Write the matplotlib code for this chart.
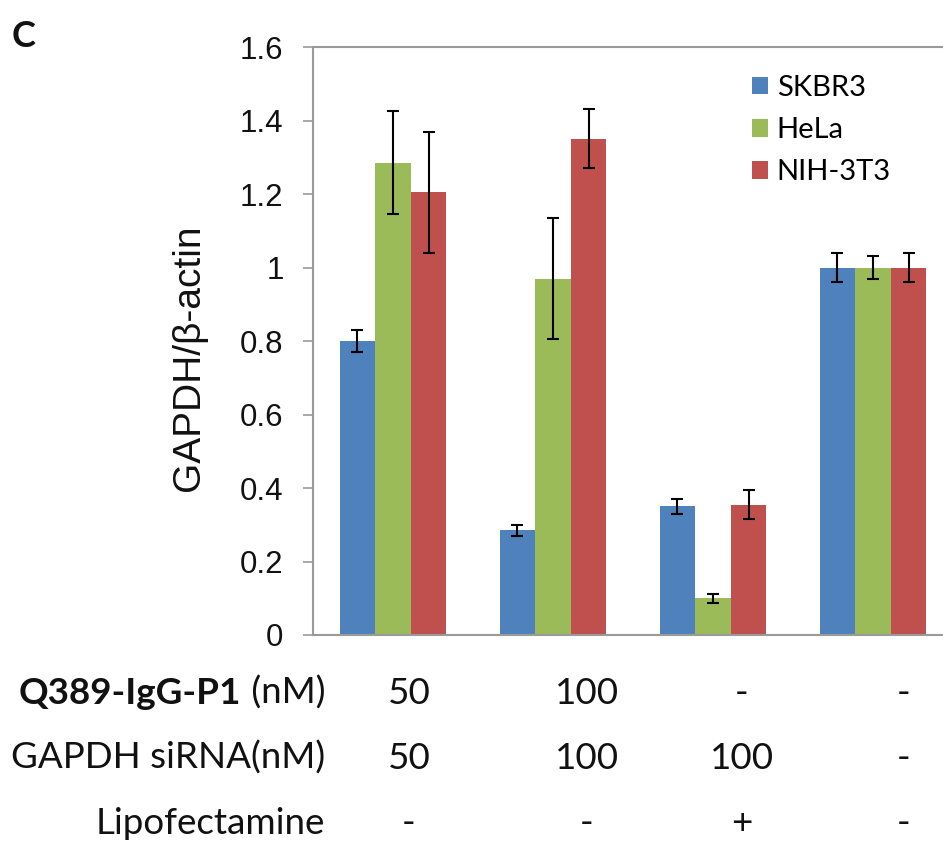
import matplotlib.pyplot as plt
import numpy as np

# data
series = ["SKBR3", "HeLa", "NIH-3T3"]
colors = ["#4F81BD", "#9BBB59", "#C0504D"]
skbr3 = [0.80, 0.285, 0.35, 1.00]
skbr3_err = [0.03, 0.015, 0.02, 0.04]
hela = [1.285, 0.97, 0.10, 1.00]
hela_err = [0.14, 0.165, 0.012, 0.03]
nih = [1.205, 1.35, 0.355, 1.00]
nih_err = [0.165, 0.08, 0.04, 0.04]

row_names = ["Q389-IgG-P1", "GAPDH siRNA(nM)", "Lipofectamine"]
row_q389 = ["50", "100", "-", "-"]
row_sirna = ["50", "100", "100", "-"]
row_lipo = ["-", "-", "+", "-"]
yticks = [0, 0.2, 0.4, 0.6, 0.8, 1, 1.2, 1.4, 1.6]

W, H = 943, 842
fig = plt.figure(figsize=(W / 100, H / 100), dpi=100)
# plot area runs past the right edge, as in the cropped original
ax = fig.add_axes([313 / W, (H - 635) / H, 640 / W, 588 / H])

x = np.arange(4)
bw = 0.222
vals = [skbr3, hela, nih]
errs = [skbr3_err, hela_err, nih_err]
for i in range(3):
    ax.bar(x + (i - 1) * bw, vals[i], bw, color=colors[i], label=series[i],
           yerr=errs[i], error_kw=dict(ecolor="black", elinewidth=1.5,
                                       capsize=4.5, capthick=1.5), zorder=2)

ax.set_xlim(-0.5, 3.5)
ax.set_ylim(0, 1.6)
ax.set_yticks(yticks)
ax.set_yticklabels([("%g" % v) for v in yticks], fontsize=22.5,
                   family="Liberation Sans", color="#111111")
ax.set_xticks([])
for s in ["left", "bottom", "top"]:
    ax.spines[s].set_color("#9a9a9a")
    ax.spines[s].set_linewidth(1.5)
ax.spines["right"].set_visible(False)
ax.tick_params(axis="y", direction="out", length=7.2, width=1.2,
               color="#9a9a9a", pad=14)
ax.text(-0.194, 0.471, "GAPDH/β-actin", transform=ax.transAxes, rotation=90,
        ha="center", va="center", fontsize=28, family="Liberation Sans",
        color="#111111")

ax.legend(loc="upper left", bbox_to_anchor=(752 / W, 1 - 75 / H),
          bbox_transform=fig.transFigure, borderaxespad=0, borderpad=0,
          frameon=False, prop=dict(family="Lato", size=21),
          handlelength=0.55, handleheight=0.55, handletextpad=0.3,
          labelspacing=0.55)

# condition table under the chart
col_x = [0.10, 1.21, 2.18, 3.19]
row_y = [-0.117, -0.228, -0.338]
lab_x = -0.425
tf = ax.get_xaxis_transform()
font = dict(family="Lato", size=26.5, color="#111111")
lbl = ax.text(lab_x, row_y[0], " (nM)", transform=tf, ha="right",
              va="baseline", **font)
ax.annotate(row_names[0], xy=(0, 0), xycoords=lbl, ha="right",
            va="bottom", fontweight="bold", **font)
ax.text(lab_x, row_y[1], row_names[1], transform=tf, ha="right",
        va="baseline", **font)
ax.text(lab_x, row_y[2], row_names[2], transform=tf, ha="right",
        va="baseline", **font)
for j, row in enumerate([row_q389, row_sirna, row_lipo]):
    for k in range(4):
        ax.text(col_x[k], row_y[j], row[k], transform=tf, ha="center",
                va="baseline", **font)

fig.text(12 / W, 1 - 47 / H, "C", fontsize=26, fontweight="bold",
         family="Lato", va="baseline", color="#111111")

fig.savefig("out.png", dpi=100)
